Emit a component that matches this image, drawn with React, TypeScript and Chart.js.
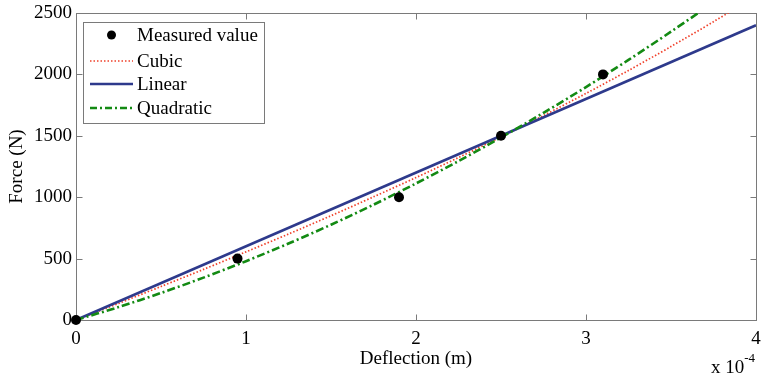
import React, { useEffect, useRef } from "react";
import { Chart, registerables } from "chart.js";

Chart.register(...registerables);

// Deflection in units of 1e-4 m
const measuredX = [0, 0.95, 1.9, 2.5, 3.1];
const measuredY = [0, 500, 1000, 1500, 2000];

const fitX = [0, 0.25, 0.5, 0.75, 1, 1.25, 1.5, 1.75, 2, 2.25, 2.5, 2.75, 3, 3.25, 3.5, 3.75, 4];
const cubicY = [0, 135, 273, 412, 555, 700, 849, 1003, 1160, 1323, 1491, 1665, 1845, 2032, 2227, 2429, 2639];
const quadraticY = [0, 105, 220, 345, 479, 623, 776, 939, 1112, 1294, 1486, 1687, 1897, 2118, 2348, 2587, 2836];
const linearX = [0, 4];
const linearY = [0, 2400];

const xTicks = [0, 1, 2, 3, 4];
const yTicks = [0, 500, 1000, 1500, 2000, 2500];

const legendLabels = ["Measured value", "Cubic", "Linear", "Quadratic"];

const FONT = "'Liberation Serif', 'Times New Roman', serif";
const AXIS = "#7a7a7a";
const BLUE = "#2e3a8c";
const RED = "#f0402a";
const GREEN = "#138a13";

const pts = (xs: number[], ys: number[]) => xs.map((x, i) => ({ x, y: ys[i] }));

const framePlugin = {
  id: "frame",
  beforeDatasetsDraw(chart: any) {
    const { ctx, chartArea: a, scales } = chart;
    const x = scales.x, y = scales.y;
    ctx.save();
    ctx.strokeStyle = AXIS;
    ctx.lineWidth = 1;
    ctx.strokeRect(a.left + 0.5, a.top + 0.5, a.right - a.left, a.bottom - a.top);
    const tl = 6;
    ctx.beginPath();
    xTicks.forEach((v) => {
      const px = Math.round(x.getPixelForValue(v)) + 0.5;
      ctx.moveTo(px, a.bottom + 0.5);
      ctx.lineTo(px, a.bottom + 0.5 - tl);
      ctx.moveTo(px, a.top + 0.5);
      ctx.lineTo(px, a.top + 0.5 + tl);
    });
    yTicks.forEach((v) => {
      const py = Math.round(y.getPixelForValue(v)) + 0.5;
      ctx.moveTo(a.left + 0.5, py);
      ctx.lineTo(a.left + 0.5 + tl, py);
      ctx.moveTo(a.right + 0.5, py);
      ctx.lineTo(a.right + 0.5 - tl, py);
    });
    ctx.stroke();
    ctx.restore();
  },
  afterDatasetsDraw(chart: any) {
    const { ctx, chartArea: a } = chart;
    ctx.save();
    // legend box
    const bx = a.left + 7, by = a.top + 9, bw = 181, bh = 101;
    ctx.fillStyle = "#ffffff";
    ctx.fillRect(bx, by, bw, bh);
    ctx.strokeStyle = AXIS;
    ctx.lineWidth = 1;
    ctx.strokeRect(bx + 0.5, by + 0.5, bw, bh);
    const rows = [by + 13, by + 39, by + 62, by + 86];
    const sx0 = bx + 7, sx1 = bx + 50, tx = bx + 54;
    ctx.font = `19px ${FONT}`;
    ctx.textBaseline = "middle";
    ctx.textAlign = "left";
    rows.forEach((ry, i) => {
      ctx.save();
      if (i === 0) {
        ctx.fillStyle = "#000";
        ctx.beginPath();
        ctx.arc((sx0 + sx1) / 2, ry, 4.5, 0, Math.PI * 2);
        ctx.fill();
      } else {
        ctx.beginPath();
        ctx.moveTo(sx0, ry);
        ctx.lineTo(sx1, ry);
        if (i === 1) { ctx.strokeStyle = RED; ctx.lineWidth = 1.5; ctx.setLineDash([1.5, 2]); }
        if (i === 2) { ctx.strokeStyle = BLUE; ctx.lineWidth = 2.5; ctx.setLineDash([]); }
        if (i === 3) { ctx.strokeStyle = GREEN; ctx.lineWidth = 2.5; ctx.setLineDash([7, 3, 2, 3]); }
        ctx.stroke();
      }
      ctx.restore();
      ctx.fillStyle = "#000";
      ctx.fillText(legendLabels[i], tx, ry + 1);
    });
    ctx.restore();
  },
  afterDraw(chart: any) {
    const { ctx, chartArea: a } = chart;
    ctx.save();
    ctx.fillStyle = "#000";
    ctx.textBaseline = "alphabetic";
    ctx.textAlign = "left";
    ctx.font = `19px ${FONT}`;
    const base = 373;
    const t = "x 10";
    const sx = a.right - 45;
    ctx.fillText(t, sx, base);
    const w = ctx.measureText(t).width;
    ctx.font = `13px ${FONT}`;
    ctx.fillText("-4", sx + w, base - 11);
    ctx.restore();
  },
};

export default function App() {
  const ref = useRef<HTMLCanvasElement | null>(null);
  useEffect(() => {
    if (!ref.current) return;
    const chart = new Chart(ref.current, {
      type: "line",
      data: {
        datasets: [
          {
            label: "Measured value",
            data: pts(measuredX, measuredY),
            showLine: false,
            pointRadius: 5,
            pointBackgroundColor: "#000",
            pointBorderColor: "#000",
            pointBorderWidth: 0,
            clip: false as any,
            order: 0,
          },
          {
            label: "Cubic",
            data: pts(fitX, cubicY),
            borderColor: RED,
            borderWidth: 1.7,
            borderDash: [1.5, 2],
            pointRadius: 0,
            tension: 0.3,
            order: 3,
          },
          {
            label: "Linear",
            data: pts(linearX, linearY),
            borderColor: BLUE,
            borderWidth: 2.6,
            pointRadius: 0,
            order: 2,
          },
          {
            label: "Quadratic",
            data: pts(fitX, quadraticY),
            borderColor: GREEN,
            borderWidth: 2.6,
            borderDash: [8, 3, 2, 3],
            pointRadius: 0,
            tension: 0.3,
            order: 1,
          },
        ],
      },
      options: {
        animation: false,
        responsive: true,
        maintainAspectRatio: false,
        layout: { padding: { top: 13, right: 4, left: 0, bottom: 0 } },
        plugins: { legend: { display: false }, tooltip: { enabled: false } },
        scales: {
          x: {
            type: "linear",
            min: 0,
            max: 4,
            grid: { display: false, drawTicks: false },
            border: { display: false },
            ticks: {
              stepSize: 1,
              padding: 8,
              color: "#000",
              font: { family: FONT, size: 19 },
              callback: (v: any) => String(v),
            },
            title: {
              display: true,
              text: "Deflection (m)",
              color: "#000",
              font: { family: FONT, size: 19 },
              padding: { top: 0, bottom: 5 },
            },
            afterFit: (s: any) => {
              s.height = 55;
              s.paddingLeft = 0;
              s.paddingRight = 0;
            },
          },
          y: {
            min: 0,
            max: 2500,
            grid: { display: false, drawTicks: false },
            border: { display: false },
            ticks: {
              stepSize: 500,
              padding: 4,
              color: "#000",
              font: { family: FONT, size: 19 },
              callback: (v: any) => String(v),
            },
            title: {
              display: true,
              text: "Force (N)",
              color: "#000",
              font: { family: FONT, size: 19 },
              padding: { top: 6, bottom: 0 },
            },
            afterFit: (s: any) => {
              s.width = 76;
              s.paddingTop = 0;
              s.paddingBottom = 0;
            },
          },
        },
      },
      plugins: [framePlugin],
    });
    return () => chart.destroy();
  }, []);
  return (
    <div style={{ position: "absolute", left: 0, top: 0, width: 761, height: 375, background: "#fff" }}>
      <canvas ref={ref} />
    </div>
  );
}
